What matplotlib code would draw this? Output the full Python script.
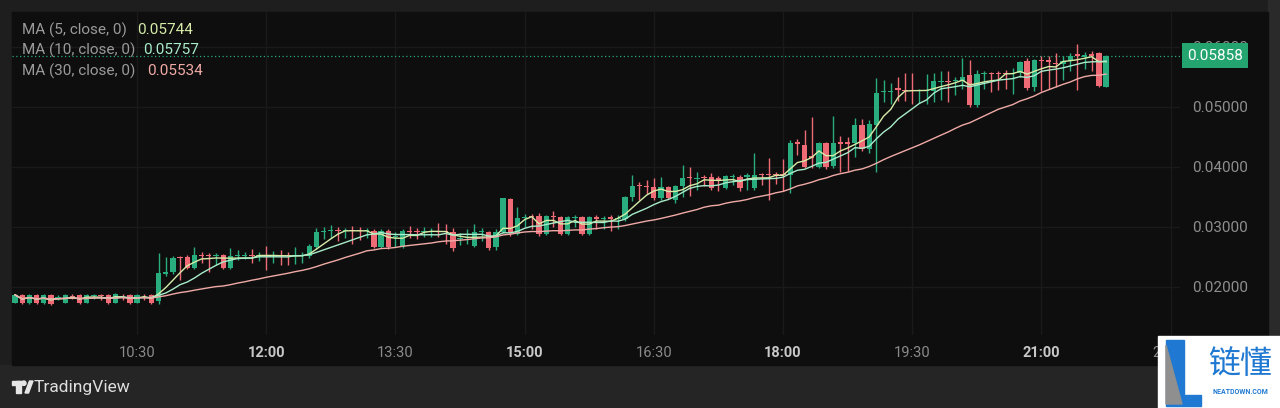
"""
5-minute candlestick chart with MA(5/10/30), TradingView dark style.
"""
import numpy as np
import pandas as pd
import matplotlib
matplotlib.use("Agg")
import matplotlib.pyplot as plt
import matplotlib.transforms as mtransforms
from matplotlib.patches import Rectangle, Polygon, Circle

plt.rcParams["font.family"] = ["Roboto", "DejaVu Sans"]

# ── data: 5-min candles from 09:05 ──────────────────────────────────────────
start_time = "09:05"
opens = [
    .0174, .0187, .0173, .0187, .0173, .0187, .0180, .0174, .0185, .0187,
    .0174, .0185, .0186, .0187, .0174, .0187, .0187, .0174, .0187, .0187,
    .0176, .0222, .0225, .0250, .0250, .0232, .0253, .0254, .0252, .0253,
    .0232, .0251, .0252, .0254, .0251, .0254, .0252, .0253, .0253, .0251,
    .0251, .0252, .0267, .0292, .0293, .0295, .0293, .0295, .0295, .0293,
    .0294, .0267, .0294, .0283, .0267, .0294, .0294, .0292, .0292, .0294,
    .0294, .0292, .0280, .0282, .0268, .0291, .0292, .0266, .0292, .0347,
    .0289, .0315, .0318, .0318, .0288, .0318, .0317, .0289, .0315, .0316,
    .0288, .0316, .0314, .0316, .0313, .0313, .0350, .0370, .0368, .0367,
    .0348, .0366, .0345, .0368, .0383, .0380, .0383, .0384, .0381, .0365,
    .0383, .0384, .0384, .0365, .0388, .0388, .0388, .0388, .0387, .0441,
    .0437, .0418, .0400, .0440, .0402, .0441, .0441, .0440, .0470, .0430,
    .0470, .0525, .0525, .0532, .0528, .0528, .0526, .0527, .0527, .0542,
    .0544, .0543, .0543, .0553, .0503, .0555, .0557, .0557, .0557, .0555,
    .0557, .0577, .0534, .0579, .0578, .0574, .0572, .0577, .0588, .0584,
    .0588, .0590, .0534,
]
closes = [
    .0187, .0173, .0187, .0173, .0187, .0172, .0184, .0187, .0184, .0173,
    .0187, .0186, .0185, .0173, .0188, .0186, .0173, .0187, .0186, .0174,
    .0223, .0225, .0249, .0248, .0232, .0253, .0252, .0252, .0253, .0231,
    .0252, .0253, .0253, .0252, .0253, .0252, .0253, .0251, .0251, .0252,
    .0253, .0268, .0292, .0294, .0294, .0293, .0295, .0293, .0293, .0294,
    .0267, .0294, .0267, .0285, .0293, .0292, .0292, .0294, .0293, .0292,
    .0291, .0265, .0282, .0284, .0292, .0293, .0265, .0292, .0348, .0290,
    .0315, .0317, .0316, .0288, .0318, .0316, .0288, .0316, .0316, .0288,
    .0316, .0314, .0315, .0314, .0314, .0350, .0368, .0368, .0366, .0348,
    .0366, .0348, .0368, .0381, .0381, .0382, .0381, .0365, .0379, .0385,
    .0385, .0365, .0386, .0387, .0386, .0386, .0386, .0386, .0440, .0439,
    .0400, .0415, .0440, .0400, .0440, .0439, .0439, .0470, .0430, .0472,
    .0524, .0527, .0527, .0528, .0527, .0527, .0528, .0528, .0543, .0544,
    .0542, .0545, .0550, .0503, .0555, .0556, .0555, .0555, .0555, .0557,
    .0575, .0532, .0578, .0577, .0575, .0572, .0577, .0585, .0585, .0587,
    .0585, .0535, .05858,
]
highs = [
    .0188, .0188, .0188, .0188, .0189, .0188, .0187, .0188, .0189, .0188,
    .0188, .0189, .0188, .0188, .0190, .0189, .0188, .0188, .0189, .0188,
    .0257, .0250, .0251, .0252, .0253, .0267, .0258, .0257, .0256, .0255,
    .0265, .0262, .0258, .0264, .0259, .0268, .0260, .0262, .0258, .0266,
    .0258, .0271, .0298, .0300, .0303, .0300, .0298, .0301, .0300, .0299,
    .0296, .0296, .0296, .0292, .0297, .0302, .0299, .0300, .0298, .0307,
    .0305, .0298, .0290, .0296, .0305, .0298, .0294, .0296, .0349, .0349,
    .0333, .0322, .0322, .0323, .0320, .0326, .0319, .0318, .0320, .0318,
    .0318, .0320, .0318, .0320, .0320, .0351, .0387, .0375, .0378, .0382,
    .0383, .0368, .0370, .0403, .0400, .0392, .0386, .0390, .0385, .0387,
    .0388, .0386, .0390, .0423, .0390, .0415, .0392, .0414, .0445, .0446,
    .0462, .0483, .0442, .0442, .0485, .0452, .0450, .0482, .0480, .0478,
    .0548, .0545, .0540, .0550, .0557, .0556, .0530, .0555, .0557, .0560,
    .0560, .0550, .0582, .0578, .0562, .0560, .0559, .0560, .0562, .0565,
    .0577, .0582, .0580, .0585, .0585, .0590, .0585, .0590, .0605, .0591,
    .0593, .0592, .0587,
]
lows = [
    .0173, .0171, .0172, .0172, .0172, .0170, .0178, .0173, .0180, .0172,
    .0173, .0180, .0178, .0172, .0173, .0178, .0172, .0173, .0179, .0172,
    .0172, .0218, .0222, .0212, .0230, .0230, .0240, .0225, .0236, .0230,
    .0230, .0245, .0247, .0240, .0244, .0228, .0240, .0236, .0237, .0238,
    .0240, .0248, .0264, .0280, .0282, .0276, .0282, .0272, .0278, .0281,
    .0265, .0265, .0264, .0266, .0265, .0282, .0280, .0283, .0284, .0283,
    .0272, .0260, .0270, .0272, .0266, .0276, .0262, .0262, .0290, .0285,
    .0286, .0300, .0296, .0285, .0286, .0300, .0286, .0287, .0300, .0286,
    .0286, .0297, .0296, .0294, .0296, .0310, .0343, .0345, .0355, .0345,
    .0345, .0346, .0340, .0350, .0352, .0362, .0368, .0362, .0360, .0363,
    .0370, .0360, .0362, .0362, .0370, .0345, .0372, .0360, .0357, .0420,
    .0398, .0398, .0398, .0397, .0398, .0392, .0393, .0417, .0426, .0423,
    .0392, .0508, .0505, .0510, .0510, .0505, .0507, .0505, .0508, .0512,
    .0508, .0520, .0530, .0500, .0500, .0530, .0525, .0528, .0530, .0522,
    .0550, .0528, .0526, .0527, .0530, .0533, .0545, .0560, .0528, .0563,
    .0560, .0533, .0533,
]

ma_periods = [5, 10, 30]
ma_legend_values = ["0.05744", "0.05757", "0.05534"]
price_ticks = [0.02, 0.03, 0.04, 0.05, 0.06]
time_labels = ["10:30", "12:00", "13:30", "15:00", "16:30", "18:00", "19:30", "21:00", "22:30"]
bold_labels = ["12:00", "15:00", "18:00", "21:00"]

# ── colours ────────────────────────────────────────────────────────────────
UP, DOWN = "#29ad7e", "#ee6b75"
MA_COLORS = ["#d6eca8", "#a8ecca", "#f0aaa6"]
BG_PANEL = "#0e0e0e"

o = np.array(opens); c = np.array(closes)
h = np.array(highs); l = np.array(lows)
x = np.arange(len(c))
col = np.where(c >= o, UP, DOWN)

t0 = pd.Timestamp("2024-01-01 " + start_time)
tick_pos = [(pd.Timestamp("2024-01-01 " + t) - t0) / pd.Timedelta("5min") for t in time_labels]

W, H = 1280, 408
fig = plt.figure(figsize=(W / 100, H / 100), dpi=100)

# background panels in pixel coords
bg = fig.add_axes([0, 0, 1, 1], zorder=-10)
bg.set_xlim(0, W); bg.set_ylim(H, 0); bg.axis("off")
bg.add_patch(Rectangle((0, 0), W, H, color="#1e1e1e"))
bg.add_patch(Rectangle((0, 365), W, H - 365, color="#252525"))
bg.add_patch(Rectangle((1268, 0), 12, H, color="#2a2a2a"))
bg.add_patch(Rectangle((12, 12), 1256, 353, color=BG_PANEL))

# main price axes
L, R, T, B = 12, 1180, 12, 335
ax = fig.add_axes([L / W, 1 - B / H, (R - L) / W, (B - T) / H])
ax.set_facecolor(BG_PANEL)
for s in ax.spines.values():
    s.set_visible(False)

px_per_bar = 7.183
ax.set_xlim(-3 / px_per_bar, x[-1] + (R - 1106) / px_per_bar)
ax.set_ylim(0.02 - (B - 287) / 6000, 0.06 + (47 - T) / 6000)

ax.grid(True, color="#1a1a1a", lw=1)
ax.set_axisbelow(True)

# candles
body_h = np.maximum(np.abs(c - o), 0.00015)
ax.vlines(x, l, h, colors=col, lw=1, zorder=2)
ax.bar(x, body_h, bottom=np.minimum(o, c), width=0.74, color=col, lw=0, zorder=3)

# moving averages
cs = pd.Series(closes)
for p, mc in zip(ma_periods, MA_COLORS):
    ax.plot(x, cs.rolling(p, min_periods=1).mean(), color=mc, lw=1, zorder=4)

# last price line + label
last = closes[-1]
ax.axhline(last, color="#2aa878", lw=0.9, ls=(0, (1, 2)), zorder=1)
trans = mtransforms.blended_transform_factory(ax.transAxes, ax.transData)
ax.text(1.0 + 7 / (R - L), last, f"{last:.5f}", transform=trans, clip_on=False,
        color="white", fontsize=11, va="center", ha="left", zorder=10,
        bbox=dict(boxstyle="square,pad=0.33", fc="#24a56f", ec="none"))

# axes ticks
ax.yaxis.tick_right()
ax.set_yticks(price_ticks)
ax.set_yticklabels([f"{v:.5f}" for v in price_ticks])
ax.tick_params(axis="y", length=0, pad=9, labelsize=11, labelcolor="#8e8e8e")
ax.set_xticks(tick_pos)
ax.set_xticklabels(time_labels)
ax.tick_params(axis="x", length=0, pad=8, labelsize=10.5)
for lab in ax.get_xticklabels():
    if lab.get_text() in bold_labels:
        lab.set_fontweight("bold"); lab.set_color("#c8c8c8")
    else:
        lab.set_color("#8a8a8a")

# overlay in pixel coords: legend, logo, watermark
ov = fig.add_axes([0, 0, 1, 1], zorder=10)
ov.set_xlim(0, W); ov.set_ylim(H, 0); ov.axis("off")
ov.patch.set_alpha(0)

legend_x = [137, 143, 147]
for i, (p, val, mc) in enumerate(zip(ma_periods, ma_legend_values, MA_COLORS)):
    yy = 30 + i * 20.5
    ov.text(22, yy, f"MA ({p}, close, 0)", color="#9a9a9a", fontsize=11, va="center")
    ov.text(legend_x[i], yy, val, color=mc, fontsize=11, va="center")

# TradingView logo
ov.add_patch(Rectangle((12, 381), 9, 3.5, color="#e6e6e6"))
ov.add_patch(Rectangle((16, 381), 4.5, 12, color="#e6e6e6"))
ov.add_patch(Circle((23.8, 383.2), 2.2, color="#e6e6e6"))
ov.add_patch(Polygon([(25, 393), (29.5, 381), (33, 381), (28.5, 393)], color="#e6e6e6"))
ov.text(34, 387.5, "TradingView", color="#dedede", fontsize=12.5, va="center")

# NEATDOWN watermark
ov.add_patch(Rectangle((1158, 336), 122, 72, color="white"))
ov.add_patch(Polygon([(1166, 340), (1184, 340), (1184, 395), (1201, 395),
                      (1201, 406), (1166, 406)], color="#1f78d1"))
ov.add_patch(Polygon([(1166, 345), (1182, 404), (1166, 404)], color="#8f8f8f"))
ov.text(1240, 364, "链懂", color="#1f78d1", fontsize=23, ha="center", va="center",
        family=["Noto Sans CJK SC", "DejaVu Sans"])
ov.text(1240, 392, "NEATDOWN.COM", color="#1f78d1", fontsize=5, ha="center",
        va="center", weight="bold")

fig.savefig("out.png", dpi=100, facecolor=fig.get_facecolor())
